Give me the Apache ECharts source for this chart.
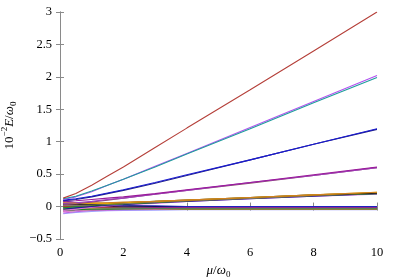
<!DOCTYPE html>
<html>
<head>
<meta charset="utf-8">
<script src="https://cdn.jsdelivr.net/npm/echarts@6/dist/echarts.min.js"></script>
<style>html,body{margin:0;padding:0;background:#fff}#c{width:399px;height:279px}</style>
</head>
<body>
<div id="c"></div>
<script>
// x sample points (mu/omega0)
const mu = [0.1, 0.5, 1, 1.5, 2, 3, 4, 6, 8, 10];
const xTicks = [0, 2, 4, 6, 8, 10];
const yTicks = [-0.5, 0, 0.5, 1, 1.5, 2, 2.5, 3];

// energy levels (10^-2 E / omega0), one array per line
const lineRed     = [0.13, 0.20, 0.33, 0.47, 0.61, 0.91, 1.21, 1.80, 2.40, 3.00];
const lineTeal    = [0.12, 0.16, 0.24, 0.33, 0.42, 0.61, 0.81, 1.20, 1.60, 1.99];
const lineViolet  = [0.11, 0.15, 0.23, 0.33, 0.42, 0.62, 0.82, 1.22, 1.62, 2.02];
const lineBlue1   = [0.10, 0.12, 0.16, 0.21, 0.26, 0.37, 0.49, 0.72, 0.96, 1.20];
const lineBlue2   = [0.09, 0.11, 0.15, 0.20, 0.25, 0.36, 0.48, 0.72, 0.96, 1.19];
const lineMag1    = [0.08, 0.09, 0.11, 0.13, 0.15, 0.20, 0.26, 0.37, 0.49, 0.61];
const lineMag2    = [0.05, 0.06, 0.08, 0.11, 0.13, 0.19, 0.25, 0.37, 0.48, 0.60];
const lineMag3    = [0.03, 0.04, 0.07, 0.10, 0.13, 0.19, 0.25, 0.36, 0.48, 0.60];
const lineE1      = [0.07, 0.06, 0.06, 0.06, 0.07, 0.08, 0.10, 0.14, 0.18, 0.22];
const lineE2      = [0.04, 0.04, 0.04, 0.05, 0.06, 0.08, 0.10, 0.14, 0.18, 0.21];
const lineE3      = [0.01, 0.02, 0.03, 0.04, 0.05, 0.07, 0.09, 0.13, 0.17, 0.21];
const lineE4      = [-0.02, 0.00, 0.02, 0.03, 0.04, 0.06, 0.09, 0.13, 0.17, 0.20];
const lineE5      = [-0.04, -0.02, 0.00, 0.02, 0.03, 0.06, 0.08, 0.12, 0.16, 0.20];
const lineE6      = [0.06, 0.05, 0.05, 0.05, 0.06, 0.08, 0.10, 0.14, 0.18, 0.22];
const lineE7      = [-0.06, -0.04, -0.01, 0.01, 0.03, 0.05, 0.08, 0.12, 0.16, 0.19];
const lineE8      = [0.02, 0.02, 0.03, 0.04, 0.05, 0.07, 0.09, 0.13, 0.17, 0.21];
const lineF1      = [0.09, 0.06, 0.04, 0.02, 0.01, 0.01, 0.00, 0.00, 0.00, 0.00];
const lineF2      = [0.06, 0.04, 0.02, 0.02, 0.01, 0.00, 0.00, 0.00, 0.00, 0.00];
const lineF3      = [0.03, 0.02, 0.01, 0.00, 0.00, -0.01, -0.01, -0.01, -0.01, -0.01];
const lineF4      = [0.00, 0.00, -0.01, -0.01, -0.01, -0.01, -0.01, -0.01, -0.01, -0.01];
const lineF5      = [-0.02, -0.02, -0.02, -0.02, -0.02, -0.02, -0.02, -0.02, -0.02, -0.02];
const lineF6      = [-0.04, -0.03, -0.03, -0.025, -0.02, -0.02, -0.02, -0.02, -0.02, -0.02];
const lineF7      = [-0.06, -0.05, -0.04, -0.04, -0.035, -0.03, -0.03, -0.03, -0.03, -0.03];
const lineF8      = [-0.08, -0.06, -0.05, -0.04, -0.04, -0.035, -0.03, -0.03, -0.03, -0.03];
const lineF9      = [-0.10, -0.08, -0.06, -0.055, -0.05, -0.045, -0.04, -0.04, -0.04, -0.04];
const lineF10     = [-0.11, -0.09, -0.075, -0.065, -0.06, -0.055, -0.05, -0.05, -0.05, -0.05];
const lineF11     = [0.05, 0.03, 0.02, 0.01, 0.01, 0.00, 0.00, 0.00, 0.00, 0.00];
const lineF12     = [-0.01, -0.01, -0.015, -0.02, -0.02, -0.02, -0.02, -0.02, -0.02, -0.02];
const lineF13     = [-0.07, -0.06, -0.05, -0.045, -0.04, -0.04, -0.04, -0.04, -0.04, -0.04];
const lineF14     = [0.02, 0.01, 0.00, 0.00, -0.01, -0.01, -0.01, -0.01, -0.01, -0.01];

const lines = [
  [lineF10, '#a0a0ff'], [lineF9, '#c060e0'], [lineF13, '#808000'], [lineF8, '#e070e0'],
  [lineF7, '#208020'], [lineF6, '#ff8c00'], [lineF12, '#8b4513'], [lineF5, '#1e9c9c'],
  [lineF4, '#c03030'], [lineF14, '#606060'], [lineF3, '#9a1a9a'], [lineF2, '#e8b000'],
  [lineF11, '#000000'], [lineF1, '#2020c0'],
  [lineE7, '#e070e0'], [lineE5, '#202090'], [lineE4, '#2a8a2a'], [lineE3, '#8b5a2b'],
  [lineE8, '#808080'], [lineE2, '#000000'], [lineE6, '#e8b000'], [lineE1, '#d08020'],
  [lineMag3, '#8b4a6b'], [lineMag2, '#a040c0'], [lineMag1, '#9a1a9a'],
  [lineBlue2, '#202080'], [lineBlue1, '#1a1ad0'],
  [lineViolet, '#b050f0'], [lineTeal, '#1e9c9c'], [lineRed, '#b5403a']
];

const axisColor = '#8a8a8a';
const font = 'Liberation Serif';
const fmtY = v => (v < 0 ? '\u2212' + Math.abs(v) : String(v));

const richName = {
  n: { fontFamily: font, fontSize: 13, color: '#000', lineHeight: 18, verticalAlign: 'middle' },
  i: { fontFamily: font, fontStyle: 'italic', fontSize: 13, color: '#000', lineHeight: 18, verticalAlign: 'middle' },
  sup: { fontFamily: font, fontSize: 9, color: '#000', lineHeight: 9, verticalAlign: 'top' },
  sub: { fontFamily: font, fontSize: 9, color: '#000', lineHeight: 9, verticalAlign: 'bottom' }
};

const series = lines.map(([vals, color]) => ({
  type: 'line',
  data: mu.map((x, i) => [x, vals[i]]),
  showSymbol: false,
  symbol: 'none',
  lineStyle: { width: 1.1, color: color },
  animation: false,
  silent: true
}));

const chart = echarts.init(document.getElementById('c'), null, { renderer: 'canvas' });
chart.setOption({
  backgroundColor: '#fff',
  animation: false,
  grid: { left: 60, right: 22, top: 12, bottom: 40, containLabel: false, outerBoundsMode: 'none' },
  xAxis: [{
    type: 'value', min: 0, max: 10, interval: 2,
    name: '{i|\u03bc}{n|/}{i|\u03c9}{sub|0}', nameLocation: 'middle', nameGap: 21,
    nameTextStyle: { fontFamily: font, fontSize: 13, color: '#000', rich: richName },
    axisLine: { show: true, lineStyle: { color: axisColor, width: 1 } },
    axisTick: { show: true, inside: true, length: 4, lineStyle: { color: axisColor } },
    axisLabel: { fontFamily: font, fontSize: 12.5, color: '#000', margin: 7 },
    splitLine: { show: false }
  }, {
    type: 'value', min: 0, max: 10, interval: 2, position: 'top',
    axisLine: { show: true, lineStyle: { color: axisColor, width: 1 } },
    axisTick: { show: true, inside: true, length: 4, lineStyle: { color: axisColor } },
    axisLabel: { show: false }, splitLine: { show: false }
  }],
  yAxis: [{
    type: 'value', min: -0.5, max: 3, interval: 0.5,
    name: '{n|10}{sup|\u22122}{i|E}{n|/}{i|\u03c9}{sub|0}', nameLocation: 'middle', nameGap: 41,
    nameTextStyle: { fontFamily: font, fontSize: 13, color: '#000', rich: richName },
    axisLine: { show: true, lineStyle: { color: axisColor, width: 1 } },
    axisTick: { show: true, inside: true, length: 4, lineStyle: { color: axisColor } },
    axisLabel: { fontFamily: font, fontSize: 12.5, color: '#000', margin: 8, formatter: fmtY },
    splitLine: { show: false }
  }, {
    type: 'value', min: -0.5, max: 3, interval: 0.5, position: 'right',
    axisLine: { show: true, lineStyle: { color: axisColor, width: 1 } },
    axisTick: { show: true, inside: true, length: 4, lineStyle: { color: axisColor } },
    axisLabel: { show: false }, splitLine: { show: false }
  }],
  series: series
});
</script>
</body>
</html>
